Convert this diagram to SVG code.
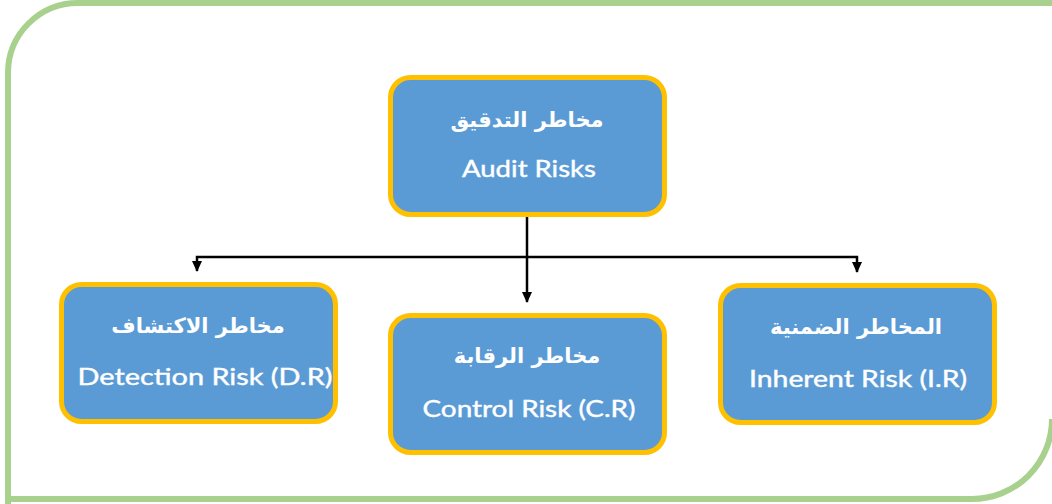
<svg xmlns="http://www.w3.org/2000/svg" width="1052" height="504" viewBox="0 0 1052 504">
<style>
.box{fill:#5B9BD5;stroke:#FFC000;stroke-width:5}
.ar{font-family:"DejaVu Sans",sans-serif;font-weight:bold;font-size:21px;fill:#FFFFFF;text-anchor:middle}
.en{font-family:Lato,"Open Sans",sans-serif;font-size:23px;fill:#FFFFFF;text-anchor:middle;stroke:#FFFFFF;stroke-width:0.4}
.conn{fill:none;stroke:#000000;stroke-width:2.5}
</style>
<defs>
<marker id="ah" markerWidth="12" markerHeight="10" refX="10" refY="5" orient="auto" markerUnits="userSpaceOnUse">
<path d="M0,0 L11,5 L0,10 Z" fill="#000000"/>
</marker>
</defs>
<path d="M8,504 L8,73 A70 70 0 0 1 78,3 L1052,3 M1052,419 A80 80 0 0 1 972,499 L8,499" fill="none" stroke="#A9D18E" stroke-width="6"/>
<g id="connectors">
<path class="conn" d="M527,217 L527,302" marker-end="url(#ah)"/>
<path class="conn" d="M527,257 L197,257 L197,271" marker-end="url(#ah)"/>
<path class="conn" d="M527,257 L857,257 L857,272" marker-end="url(#ah)"/>
</g>
<g id="audit">
<rect class="box" x="390.5" y="77.5" width="274" height="137" rx="20"/>
<text class="ar" x="527" y="127">مخاطر التدقيق</text>
<text class="en" x="529" y="177" textLength="134" lengthAdjust="spacingAndGlyphs">Audit Risks</text>
</g>
<g id="detection">
<rect class="box" x="61.5" y="284.5" width="274" height="137" rx="20"/>
<text class="ar" x="198" y="333">مخاطر الاكتشاف</text>
<text class="en" x="205" y="385" textLength="255" lengthAdjust="spacingAndGlyphs">Detection Risk (D.R)</text>
</g>
<g id="control">
<rect class="box" x="390.5" y="315.5" width="274" height="137" rx="20"/>
<text class="ar" x="527" y="363">مخاطر الرقابة</text>
<text class="en" x="529" y="417" textLength="213" lengthAdjust="spacingAndGlyphs">Control Risk (C.R)</text>
</g>
<g id="inherent">
<rect class="box" x="720.5" y="285.5" width="274" height="137" rx="20"/>
<text class="ar" x="856" y="334">المخاطر الضمنية</text>
<text class="en" x="858" y="387" textLength="218" lengthAdjust="spacingAndGlyphs">Inherent Risk (I.R)</text>
</g>
</svg>
